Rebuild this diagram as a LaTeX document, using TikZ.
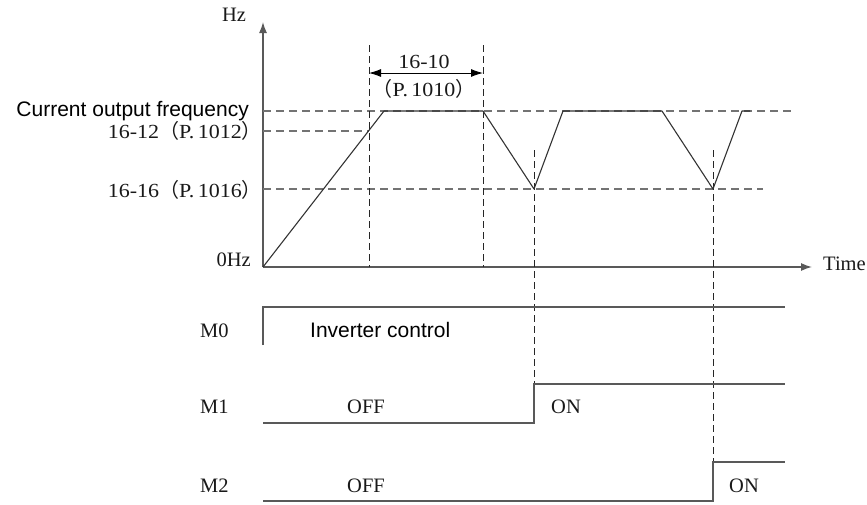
\documentclass[tikz,border=0pt]{standalone}
\usepackage{fontspec}
\setmainfont{Liberation Serif}
\newfontfamily\arialfont{Liberation Sans}
\newfontfamily\numfont[FakeStretch=1.1]{Liberation Serif}
\newfontfamily\cjk{Noto Sans CJK SC}
\usepackage{tikz}
\usetikzlibrary{positioning, arrows.meta, calc}

\begin{document}
\begin{tikzpicture}[x=1pt, y=-1pt,
    lbl/.style={inner sep=0pt, text=black!90, font=\fontsize{20.5}{22}\selectfont},
    numlbl/.style={inner sep=0pt, text=black!90, font=\numfont\fontsize{20}{22}\selectfont},
    sanslbl/.style={inner sep=0pt, font=\arialfont\fontsize{21}{24}\selectfont},
    axis/.style={draw=black!65, line width=1.4pt},
    guide/.style={draw=black!55, line width=1.3pt, dash pattern=on 8pt off 5pt},
    markline/.style={draw=black!85, line width=0.9pt, dash pattern=on 7pt off 4pt},
    freq/.style={draw=black!80, line width=1.1pt, line join=round},
    signal/.style={draw=black!65, line width=1.4pt}]

\useasboundingbox (0,0) rectangle (867,504);

% axes
\coordinate (O) at (263,267);
\draw[axis, -{Latex[length=11pt,width=8pt]}] (O) -- (263,22);
\draw[axis, -{Latex[length=11pt,width=8pt]}] (O) -- (812,267);

% dashed levels
\draw[guide] (263,111) -- (793,111);
\draw[guide] (263,131) -- (369,131);
\draw[guide] (263,189) -- (763,189);

% dashed time marks
\draw[markline] (369,45) -- (369,267);
\draw[markline] (483,45) -- (483,267);
\draw[markline] (534,150) -- (534,384);
\draw[markline] (713,150) -- (713,462);

% output frequency
\draw[freq] (O) -- (384,111) -- (483,111) -- (534,189) -- (563,111) -- (662,111) -- (713,189) -- (742,111) -- (750,111);

% 16-10 span
\draw[black, line width=0.9pt, {Latex[length=12pt,width=8pt]}-{Latex[length=12pt,width=8pt]}] (369,73) -- (483,73);

% M0, M1, M2 signals
\draw[signal] (263,345) -- (263,307) -- (785,307);
\draw[signal] (263,423) -- (534,423) -- (534,384) -- (785,384);
\draw[signal] (263,501) -- (713,501) -- (713,462) -- (785,462);

% axis labels
\node[lbl, anchor=base] (hz) at (234,21) {Hz};
\node[lbl, anchor=base east] (zero) at (251,266) {0Hz};
\node[lbl, anchor=base west] (time) at (823,270) {Time};

% level labels
\node[sanslbl, anchor=base east] (cur) at (249,116) {Current output frequency};
\node[numlbl, anchor=base east] (p1012) at (262,138) {16-12{\cjk （}P.\,1012{\cjk ）}};
\node[numlbl, anchor=base east] (p1016) at (262,197) {16-16{\cjk （}P.\,1016{\cjk ）}};
\node[numlbl, anchor=base] (p1010a) at (424,68) {16-10};
\node[numlbl, anchor=base] (p1010b) at (424,96) {{\cjk （}P.\,1010{\cjk ）}};

% signal labels
\node[lbl, anchor=base west] (m0) at (200,337) {M0};
\node[sanslbl, anchor=base west] (inv) at (310,337) {Inverter control};
\node[lbl, anchor=base west] (m1) at (200,413) {M1};
\node[lbl, anchor=base west] (off1) at (347,413) {OFF};
\node[lbl, anchor=base west] (on1) at (551,413) {ON};
\node[lbl, anchor=base west] (m2) at (200,492) {M2};
\node[lbl, anchor=base west] (off2) at (347,492) {OFF};
\node[lbl, anchor=base west] (on2) at (729,492) {ON};

\end{tikzpicture}
\end{document}
